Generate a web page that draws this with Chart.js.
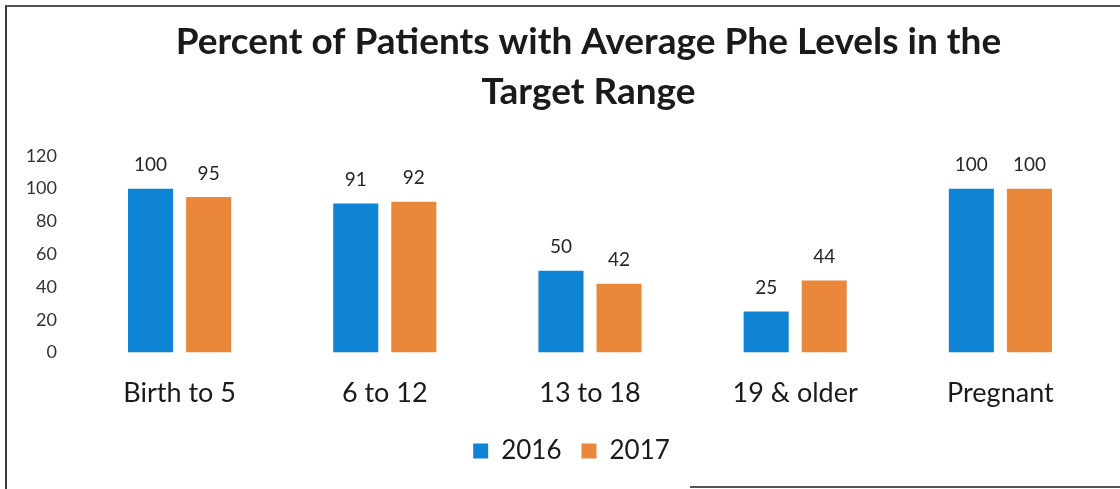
<!DOCTYPE html>
<html>
<head>
<meta charset="utf-8">
<script src="https://cdn.jsdelivr.net/npm/chart.js@4.4.1/dist/chart.umd.min.js"></script>
<style>
  html, body { margin: 0; padding: 0; background: #fff; }
  body { width: 1120px; height: 489px; overflow: hidden; position: relative; }
  .frame {
    position: absolute; left: 5px; top: 5px; width: 1130px; height: 500px;
    border-left: 2px solid #3a3a3a; border-top: 2px solid #555;
  }
  .frameBottom {
    position: absolute; left: 690px; top: 486px; width: 440px; height: 0;
    border-top: 2px solid #555;
  }
  #chartWrap { position: absolute; left: 0; top: 0; width: 1120px; height: 489px; }
</style>
</head>
<body>
<div class="frame"></div>
<div class="frameBottom"></div>
<div id="chartWrap"><canvas id="chartPhe"></canvas></div>
<script>
  var categories = ['Birth to 5', '6 to 12', '13 to 18', '19 & older', 'Pregnant'];
  var seriesNames = ['2016', '2017'];
  var values2016 = [100, 91, 50, 25, 100];
  var values2017 = [95, 92, 42, 44, 100];
  var yTicks = [0, 20, 40, 60, 80, 100, 120];

  var FONT = "Lato, 'Open Sans', sans-serif";
  Chart.defaults.font.family = FONT;
  Chart.defaults.color = '#262626';
  Chart.defaults.animation = false;

  /* value labels above each bar */
  var barLabels = {
    id: 'barLabels',
    afterDatasetsDraw: function(chart) {
      var ctx = chart.ctx;
      ctx.save();
      ctx.font = '19px ' + FONT;
      ctx.fillStyle = '#262626';
      ctx.textAlign = 'center';
      ctx.textBaseline = 'bottom';
      chart.data.datasets.forEach(function(ds, i) {
        chart.getDatasetMeta(i).data.forEach(function(bar, j) {
          ctx.fillText(String(ds.data[j]), bar.x, bar.y - 14);
        });
      });
      ctx.restore();
    }
  };

  /* the scanned title and legend sit a bit right of centre */
  var nudgeBlocks = {
    id: 'nudgeBlocks',
    afterLayout: function(chart) {
      if (chart.titleBlock) chart.titleBlock.left += 56;
      if (chart.legend) {
        chart.legend.left += 22;
        chart.legend.top -= 15;
        chart.legend.bottom -= 15;
      }
    }
  };

  new Chart(document.getElementById('chartPhe'), {
    type: 'bar',
    data: {
      labels: categories,
      datasets: [{
        label: seriesNames[0],
        data: values2016,
        backgroundColor: '#0f84d4',
        borderWidth: 0,
        barPercentage: 0.776,
        categoryPercentage: 0.566
      }, {
        label: seriesNames[1],
        data: values2017,
        backgroundColor: '#e9883a',
        borderWidth: 0,
        barPercentage: 0.776,
        categoryPercentage: 0.566
      }]
    },
    options: {
      responsive: true,
      maintainAspectRatio: false,
      layout: { padding: { top: 17, left: 18, right: 17, bottom: 0 } },
      plugins: {
        title: {
          display: true,
          text: ['Percent of Patients with Average Phe Levels in the', 'Target Range'],
          font: { size: 37, weight: 'bold', lineHeight: 1.35 },
          color: '#1a1a1a',
          padding: { top: 0, bottom: 39 }
        },
        legend: {
          display: true,
          position: 'bottom',
          labels: {
            boxWidth: 15,
            boxHeight: 15,
            padding: 20,
            font: { size: 26 },
            color: '#1a1a1a'
          }
        },
        tooltip: { enabled: false }
      },
      scales: {
        y: {
          min: 0,
          max: 120,
          afterBuildTicks: function(axis) {
            axis.ticks = yTicks.map(function(v) { return { value: v }; });
          },
          afterFit: function(axis) { axis.width = 59; },
          grid: { display: false, drawTicks: false },
          border: { display: false },
          ticks: { font: { size: 18 }, color: '#333', padding: 20 }
        },
        x: {
          grid: { display: false, drawTicks: false },
          border: { display: false },
          ticks: { font: { size: 27 }, color: '#1a1a1a', padding: 24 }
        }
      }
    },
    plugins: [barLabels, nudgeBlocks]
  });
</script>
</body>
</html>
